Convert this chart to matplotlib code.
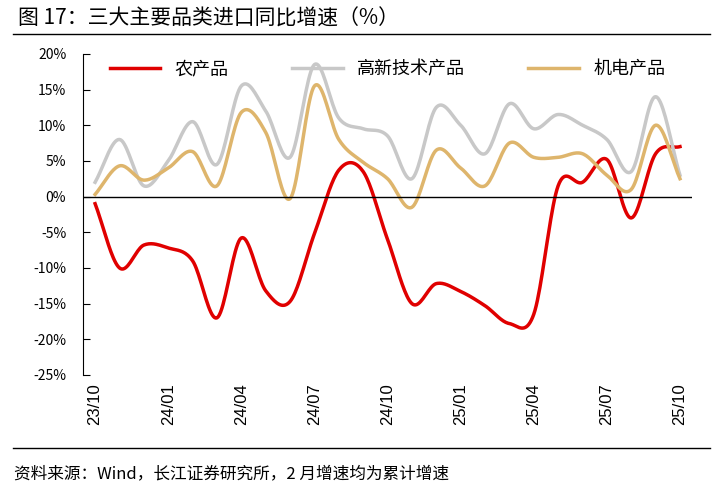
import matplotlib.pyplot as plt
import numpy as np

plt.rcParams['font.family'] = ['Noto Sans CJK SC', 'DejaVu Sans']

months = ['23/10', '23/11', '23/12', '24/01', '24/02', '24/03', '24/04', '24/05', '24/06',
          '24/07', '24/08', '24/09', '24/10', '24/11', '24/12', '25/01', '25/02', '25/03',
          '25/04', '25/05', '25/06', '25/07', '25/08', '25/09', '25/10']
agri = [-1, -10, -6.8, -7.2, -9, -17, -5.8, -13.2, -14.7, -5.2, 3.7, 3.5, -6, -15,
        -12.2, -13.3, -15.3, -17.8, -16.5, 1.5, 2, 5.2, -3, 6, 7]
hitech = [2, 8, 1.5, 5, 10.5, 4.5, 15.5, 12, 5.5, 18.5, 11, 9.5, 8.5, 2.5, 12.5, 10,
          6, 13, 9.5, 11.5, 10, 8, 3.5, 14, 3]
mech = [0.3, 4.3, 2.3, 4, 6.3, 1.5, 11.8, 9, -0.3, 15.5, 8, 4.8, 2.5, -1.5, 6.5, 4,
        1.5, 7.5, 5.5, 5.5, 6, 3, 1, 10, 2.5]


def smooth(y, n=20):
    # Catmull-Rom curve through the points, for the smoothed look
    y = np.asarray(y, float)
    p = np.concatenate([[2 * y[0] - y[1]], y, [2 * y[-1] - y[-2]]])
    xs, ys = [], []
    t = np.linspace(0, 1, n, endpoint=False)
    for i in range(len(y) - 1):
        p0, p1, p2, p3 = p[i], p[i + 1], p[i + 2], p[i + 3]
        seg = 0.5 * (2 * p1 + (-p0 + p2) * t + (2 * p0 - 5 * p1 + 4 * p2 - p3) * t ** 2
                     + (-p0 + 3 * p1 - 3 * p2 + p3) * t ** 3)
        xs.extend(i + t)
        ys.extend(seg)
    xs.append(len(y) - 1)
    ys.append(y[-1])
    return np.array(xs), np.array(ys)


fig = plt.figure(figsize=(7.21, 4.94), dpi=100)
ax = fig.add_axes([0.115, 0.241, 0.845, 0.65])

for data, color, label in [(agri, '#e00000', '农产品'), (hitech, '#c8c8c8', '高新技术产品'),
                           (mech, '#deb56c', '机电产品')]:
    xs, ys = smooth(data)
    ax.plot(xs, ys, color=color, lw=2.5, label=label)

ax.set_xlim(-0.5, len(months) - 0.5)
ax.set_ylim(-25, 20)
ax.set_yticks(range(-25, 21, 5))
ax.set_yticklabels([f'{v}%' for v in range(-25, 21, 5)], fontsize=12, family='Liberation Sans')
ax.set_xticks(range(0, len(months), 3))
ax.set_xticklabels(months[::3], rotation=90, fontsize=12, family='Liberation Sans')
ax.tick_params(axis='y', direction='in', length=5, pad=12)
ax.tick_params(axis='x', length=0, pad=6)
for s in ['top', 'right', 'bottom']:
    ax.spines[s].set_visible(False)
ax.spines['left'].set_position(('data', -0.5))
ax.axhline(0, color='black', lw=1)
ax.legend(loc='upper center', ncol=3, frameon=False, fontsize=13, bbox_to_anchor=(0.5, 1.03),
          handlelength=2.8, columnspacing=3.5)

fig.text(0.025, 0.962, '图 17：三大主要品类进口同比增速（%）', fontsize=15, va='center')
fig.add_artist(plt.Line2D([0.018, 0.985], [0.932, 0.932], color='black', lw=1))
fig.add_artist(plt.Line2D([0.018, 0.985], [0.093, 0.093], color='black', lw=1))
fig.text(0.02, 0.04, '资料来源：Wind，长江证券研究所，2 月增速均为累计增速', fontsize=12, va='center')

fig.savefig('out.png', dpi=100)
